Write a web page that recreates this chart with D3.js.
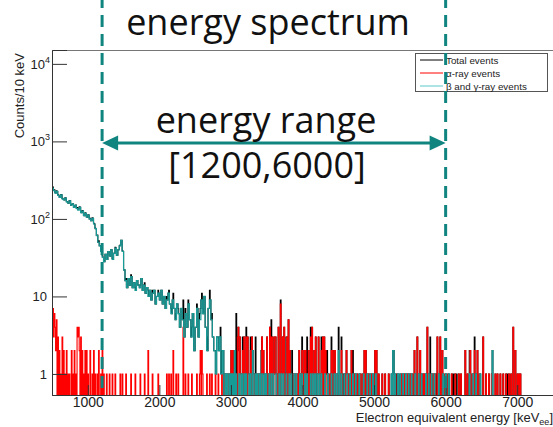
<!DOCTYPE html>
<html>
<head>
<meta charset="utf-8">
<script src="https://cdn.jsdelivr.net/npm/d3@7"></script>
<style>
body { margin: 0; background: #fff; }
svg { display: block; font-family: "Liberation Sans", Arial, sans-serif; }
</style>
</head>
<body>
<script>
/* energy spectrum, ROOT style log histogram */

// histogram binning (keV)
var binLo = 500, binW = 10, nBins = 700;

// beta/gamma counts, continuous part, per 20 keV step starting at 500 keV
var betaGammaLow = [
  250,232,215,226,201,190,205,181,176,186,
  166,160,171,150,156,141,150,136,130,141,
  120,126,110,118,105,112,100,95,102,86,
  75,61,50,45,38,32,28,35,30,38,
  33,40,30,36,42,34,40,45,53,38,
  22,16,13,17,14,18,13,15,12,16,
  14,13,17,12,14,11,13,10,12,9,
  11,12,8,10,11,9,12,8,10,7,
  9,11,8,6,9,7,5,8,6,4,
  7,5,3,6,4,8,5,3,6,2,
  4,7,3,5,9,6,10,4,2,7,
  9,5,3,2,1,3,2,3,1,2
];
// beta/gamma single counts above 2900 keV (bin energy)
var betaGammaSingles = [
  2920,2940,2970,2990,3010,3030,3070,3110,3140,3160,3190,3210,3250,3270,3310,3340,3360,3390,
  3410,3440,3470,3490,3530,3560,3590,3630,3670,3700,3730,3770,3810,3840,3880,3910,3960,3990,
  4030,4060,4110,4140,4170,4200,4230,4260,4310,4350,4400,4440,4470,4510,4540,4580,4620,4660,
  4700,4740,4790,4850,4900,4940,4980,5020,5240,5290,5330,5360,5400,5440,5480,5520,5570,5620,
  5660,5720,5760,5800,5840,5900,5960,6000,6040,6330,6380,6420,6480
];
var betaGammaMulti = [[3050,2],[3300,2],[4500,2],[5260,2],[5270,2],[6650,2]];

// alpha events
var alphaSingles = [
  620,680,720,740,790,830,940,1000,1060,1100,1130,1180,1220,1260,1300,1340,1380,1450,1480,1530,
  1600,1660,1730,1790,1900,1980,2100,2130,2160,2230,2260,2360,2400,2450,2520,2560,2600,2660,2700,
  2730,2780,2820,2870,2910,2960,3040,3060,3130,3150,3200,3260,3320,3350,3380,3460,3520,3600,3640,
  3710,3760,3830,3870,3900,3930,3980,4000,4050,4100,4150,4210,4240,4330,4360,4390,4480,4520,4550,
  4600,4640,4720,4760,4800,4830,4920,4960,5060,5110,5150,5200,5250,5320,5380,5420,5460,5500,5530,
  5680,5700,5780,5820,5850,5990,6030,6080,6130,6180,6210,6300,6370,6470,6560,6600,6640,6690,6720,
  6760,6800,6840,6880,6910,7000,7020,7040
];
var alphaMulti = [
  [500,5],[510,7],[520,3],[530,6],[540,4],[550,2],[560,5],[580,3],[600,2],[640,3],[660,2],[700,2],
  [770,2],[810,2],[850,4],[860,3],[870,4],[880,2],[900,3],[920,2],[960,2],[980,2],[1030,2],[1080,2],
  [1150,2],[1200,2],[1840,2],[2190,2],[2330,4],[2570,2],[2590,2],[3000,2],[3020,2],[3090,3],[3100,4],
  [3120,3],[3160,2],[3180,3],[3210,3],[3230,3],[3270,2],[3290,3],[3430,3],[3450,2],[3500,3],[3540,4],
  [3560,3],[3580,3],[3610,3],[3620,3],[3660,4],[3690,8],[3720,3],[3740,4],[3780,3],[3800,5],[3820,2],
  [3950,2],[3990,2],[4020,2],[4040,2],[4080,2],[4110,3],[4130,4],[4160,2],[4180,3],[4220,3],[4260,2],
  [4280,3],[4300,3],[4320,2],[4400,2],[4420,2],[4450,2],[4540,2],[4610,2],[4680,2],[4860,2],
  [4880,2],[5010,2],[5030,2],[5560,2],[5600,3],[5640,2],[5740,4],[5880,3],[5920,3],[5950,2],[6270,2],
  [6340,2],[6400,2],[6440,2],[6520,3],[6940,4],[6970,2]
];
// events only in the total (not tagged alpha or beta/gamma)
var otherEvents = [
  [2700,2],[2850,1],[2950,1],[3070,5],[3110,1],[3170,1],[3240,1],[3340,2],[3420,2],[3480,1],[3560,1],
  [3690,1],[3770,2],[3850,2],[4010,1],[4060,2],[4340,2],[4500,2],[4570,1],[4700,1],[4870,1],[5300,1],
  [5450,1],[5780,2],[5860,1],[6100,1],[6120,1],[6150,1],[6330,1],[6400,1],[6860,1]
];

var xTicksMajor = [1000,2000,3000,4000,5000,6000,7000];
var yTicksMajor = [1,10,100,1000,10000];
var yTickLabels = ["1","10","2","3","4"];
var legendLabels = ["Total events","\u03b1-ray events","\u03b2 and \u03b3-ray events"];
var rangeLimits = [1200,6000];

var colTotal = "#000000", colAlpha = "#ff0000", colBG = "#179b97", colNote = "#10857f";

// fill the bins
function emptyBins(){ return new Array(nBins).fill(0); }
function addHits(bins, singles, multi){
  singles.forEach(function(e){ bins[Math.round((e-binLo)/binW)] += 1; });
  multi.forEach(function(d){ bins[Math.round((d[0]-binLo)/binW)] += d[1]; });
}
var alphaBins = emptyBins();
addHits(alphaBins, alphaSingles, alphaMulti);
var bgBins = emptyBins();
betaGammaLow.forEach(function(v,j){ bgBins[2*j] = v; bgBins[2*j+1] = v; });
addHits(bgBins, betaGammaSingles, betaGammaMulti);
var otherBins = emptyBins();
addHits(otherBins, [], otherEvents);
var totalBins = alphaBins.map(function(v,i){ return v + bgBins[i] + otherBins[i]; });

var svg = d3.select("body").append("svg")
    .attr("width",553)
    .attr("height",427);

var fl = 52, ft = 50, fr = 553, fb = 395;
var x = d3.scaleLinear().domain([500,7500]).range([fl,fr]);
var y = d3.scaleLog().domain([0.535,15100]).range([fb,ft]);

svg.append("clipPath").attr("id","frame")
  .append("rect").attr("x",fl).attr("y",ft).attr("width",fr-fl).attr("height",fb-ft);

function histPath(bins){
  var pts = bins.map(function(v,i){ return [binLo+i*binW, v]; });
  pts.push([binLo+nBins*binW, bins[nBins-1]]);
  return d3.line()
    .x(function(d){ return x(d[0]); })
    .y(function(d){ return d[1] > 0 ? y(d[1]) : fb+2; })
    .curve(d3.curveStepAfter)(pts);
}

var plot = svg.append("g").attr("clip-path","url(#frame)");
[[totalBins,colTotal,1.1],[alphaBins,colAlpha,1.1],[bgBins,colBG,1.2]].forEach(function(h){
  plot.append("path")
    .attr("d",histPath(h[0]))
    .attr("fill","none")
    .attr("stroke",h[1])
    .attr("stroke-width",h[2]);
});

// frame top
svg.append("line").attr("x1",fl).attr("x2",fr).attr("y1",ft+0.5).attr("y2",ft+0.5)
  .attr("stroke","#777").attr("stroke-width",1);

// x axis
var xMinor = d3.range(600,7500,200).filter(function(v){ return v % 1000 != 0; });
var gx = svg.append("g").attr("transform","translate(0,"+fb+")");
gx.call(d3.axisBottom(x).tickValues(xMinor).tickSize(-5).tickFormat(""));
gx.call(d3.axisBottom(x).tickValues(xTicksMajor).tickSize(-10).tickPadding(2).tickFormat(d3.format("d")));
gx.selectAll(".domain").attr("stroke","#333");
gx.selectAll(".tick line").attr("stroke","#333");
gx.selectAll("text").attr("font-size",14).attr("fill","#222")
  .attr("font-family","Liberation Sans, Arial, sans-serif");

// y axis
var yMinor = [];
[0.1,1,10,100,1000,10000].forEach(function(dec){
  for (var k=2;k<10;k++){ var v=dec*k; if (v>0.535 && v<15100) yMinor.push(v); }
});
var gy = svg.append("g").attr("transform","translate("+fl+",0)");
gy.call(d3.axisLeft(y).tickValues(yMinor).tickSize(-8).tickFormat(""));
gy.call(d3.axisLeft(y).tickValues(yTicksMajor).tickSize(-15).tickFormat(""));
gy.selectAll(".domain").attr("stroke","#333");
gy.selectAll(".tick line").attr("stroke","#333");

var yl = svg.append("g").attr("font-size",13).attr("fill","#222");
yTicksMajor.forEach(function(v,i){
  var t = yl.append("text").attr("y",y(v)+5).attr("text-anchor","end");
  if (v < 100) {
    t.attr("x",fl-5).text(yTickLabels[i]);
  } else {
    t.attr("x",fl-2);
    t.append("tspan").text("10");
    t.append("tspan").attr("font-size",9).attr("dy",-6).text(yTickLabels[i]);
  }
});

// axis titles
var xt = svg.append("text").attr("x",553).attr("y",422).attr("text-anchor","end")
  .attr("font-size",13).attr("fill","#222");
xt.append("tspan").text("Electron equivalent energy [keV");
xt.append("tspan").attr("font-size",9).attr("dy",3).text("ee");
xt.append("tspan").attr("dy",-3).text("]");

svg.append("text").attr("transform","translate(24,53) rotate(-90)")
  .attr("text-anchor","end").attr("font-size",13).attr("fill","#222")
  .text("Counts/10 keV");

// legend
var lg = svg.append("g");
lg.append("rect").attr("x",415.5).attr("y",53.5).attr("width",132).attr("height",38)
  .attr("fill","#fff").attr("stroke","#555").attr("stroke-width",1);
[colTotal,colAlpha,"#5cc8c6"].forEach(function(c,i){
  var yy = 60 + i*13;
  lg.append("line").attr("x1",420).attr("x2",443).attr("y1",yy).attr("y2",yy)
    .attr("stroke",c).attr("stroke-width",1);
  lg.append("text").attr("x",446).attr("y",yy+3.5).attr("font-size",9.8).attr("fill","#222")
    .text(legendLabels[i]);
});

// annotations
var ann = svg.append("g");
rangeLimits.forEach(function(e){
  ann.append("line").attr("x1",x(e)).attr("x2",x(e)).attr("y1",-4).attr("y2",fb)
    .attr("stroke",colNote).attr("stroke-width",3).attr("stroke-dasharray","12,7");
});
var ax1 = x(rangeLimits[0]), ax2 = x(rangeLimits[1]), ay = 143;
ann.append("line").attr("x1",ax1+10).attr("x2",ax2-10).attr("y1",ay).attr("y2",ay)
  .attr("stroke",colNote).attr("stroke-width",3);
ann.append("path").attr("d","M"+ax1+","+ay+"l16,-7.5v15z").attr("fill",colNote);
ann.append("path").attr("d","M"+ax2+","+ay+"l-16,-7.5v15z").attr("fill",colNote);

var big = ann.append("g").attr("font-family","Open Sans, sans-serif").attr("font-size",36)
  .attr("fill","#111").attr("text-anchor","middle");
big.append("text").attr("x",268).attr("y",35).text("energy spectrum");
big.append("text").attr("x",266).attr("y",133).text("energy range");
big.append("text").attr("x",267).attr("y",178).text("[" + rangeLimits.join(",") + "]");
</script>
</body>
</html>
